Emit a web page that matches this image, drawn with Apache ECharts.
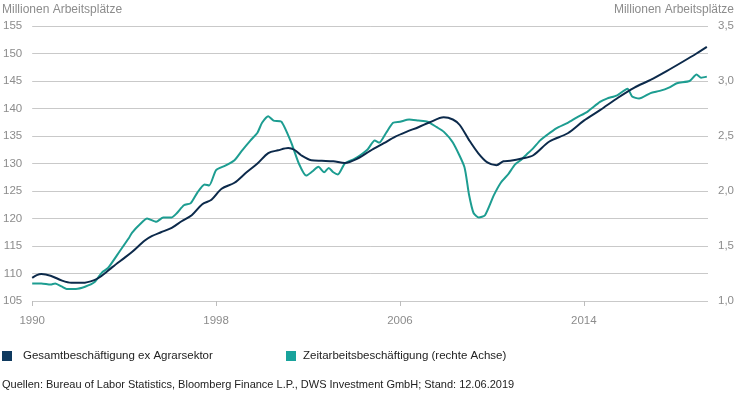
<!DOCTYPE html>
<html>
<head>
<meta charset="utf-8">
<script src="https://cdn.jsdelivr.net/npm/echarts@6/dist/echarts.min.js"></script>
<style>
html,body{margin:0;padding:0;background:#fff;}
#chart{width:750px;height:396px;}
</style>
</head>
<body>
<div id="chart"></div>
<script>
// ---- Data ----
const axisTitle = 'Millionen Arbeitsplätze';
const xTickYears = [1990, 1998, 2006, 2014];
const leftTicks = [105, 110, 115, 120, 125, 130, 135, 140, 145, 150, 155];
const rightTicks = [1.0, 1.5, 2.0, 2.5, 3.0, 3.5];

const seriesNames = ['Gesamtbeschäftigung ex Agrarsektor', 'Zeitarbeitsbeschäftigung (rechte Achse)'];

// Gesamtbeschäftigung ex Agrarsektor (Mio., linke Achse)
const navyYears = [1990.0, 1990.2, 1990.4, 1990.8, 1991.3, 1991.7, 1992.2, 1992.7, 1993.0, 1993.5, 1994.0, 1994.34, 1994.9, 1995.2, 1995.6, 1996.07, 1996.5, 1996.94, 1997.4, 1997.8, 1998.24, 1998.8, 1999.3, 1999.8, 2000.27, 2000.7, 2001.14, 2001.4, 2001.7, 2002.14, 2002.6, 2003.1, 2003.6, 2004.2, 2004.7, 2005.3, 2005.8, 2006.3, 2006.8, 2007.3, 2007.9, 2008.3, 2008.6, 2009.0, 2009.4, 2009.8, 2010.2, 2010.5, 2010.8, 2011.3, 2011.8, 2012.5, 2013.3, 2014.0, 2014.7, 2015.5, 2016.2, 2016.9, 2017.6, 2018.3, 2018.9, 2019.35];
const navyValues = [109.2, 109.7, 109.9, 109.6, 108.7, 108.3, 108.3, 108.8, 109.5, 111.2, 112.8, 113.9, 116.0, 116.8, 117.5, 118.3, 119.5, 120.6, 122.6, 123.4, 125.4, 126.5, 128.3, 130.0, 131.9, 132.4, 132.8, 132.5, 131.5, 130.6, 130.5, 130.4, 130.1, 131.0, 132.3, 133.7, 134.9, 135.8, 136.6, 137.5, 138.4, 138.0, 137.0, 134.3, 131.9, 130.2, 129.7, 130.4, 130.5, 130.9, 131.5, 134.0, 135.5, 137.8, 139.7, 142.0, 143.8, 145.2, 146.8, 148.5, 150.0, 151.2];

// Zeitarbeitsbeschäftigung (Mio., rechte Achse)
const tealYears = [1990.0, 1990.4, 1990.8, 1991.0, 1991.3, 1991.5, 1991.9, 1992.3, 1992.7, 1993.04, 1993.3, 1993.8, 1994.2, 1994.34, 1994.7, 1995.0, 1995.4, 1995.7, 1996.07, 1996.3, 1996.6, 1996.9, 1997.2, 1997.5, 1997.7, 1998.0, 1998.4, 1998.8, 1999.1, 1999.5, 1999.8, 2000.0, 2000.27, 2000.5, 2000.84, 2001.27, 2001.6, 2001.92, 2002.2, 2002.45, 2002.7, 2002.9, 2003.1, 2003.3, 2003.6, 2004.0, 2004.3, 2004.6, 2004.9, 2005.1, 2005.4, 2005.7, 2006.0, 2006.4, 2006.8, 2007.2, 2007.6, 2007.9, 2008.3, 2008.8, 2009.0, 2009.2, 2009.43, 2009.7, 2010.08, 2010.4, 2010.7, 2011.0, 2011.25, 2011.5, 2011.8, 2012.1, 2012.4, 2012.8, 2013.3, 2013.7, 2014.15, 2014.7, 2015.0, 2015.45, 2015.9, 2016.1, 2016.4, 2016.9, 2017.3, 2017.7, 2018.05, 2018.6, 2018.9, 2019.1, 2019.35];
const tealValues = [1.16, 1.16, 1.15, 1.16, 1.13, 1.11, 1.11, 1.13, 1.17, 1.26, 1.30, 1.45, 1.57, 1.62, 1.70, 1.75, 1.72, 1.76, 1.76, 1.80, 1.87, 1.89, 1.99, 2.06, 2.05, 2.19, 2.23, 2.28, 2.36, 2.46, 2.53, 2.62, 2.68, 2.64, 2.63, 2.44, 2.25, 2.14, 2.18, 2.22, 2.17, 2.21, 2.17, 2.15, 2.25, 2.29, 2.33, 2.38, 2.46, 2.44, 2.53, 2.62, 2.63, 2.65, 2.64, 2.63, 2.58, 2.54, 2.44, 2.22, 1.97, 1.80, 1.76, 1.78, 1.96, 2.08, 2.15, 2.24, 2.28, 2.33, 2.39, 2.46, 2.51, 2.57, 2.62, 2.67, 2.72, 2.81, 2.84, 2.87, 2.93, 2.86, 2.84, 2.89, 2.91, 2.94, 2.98, 3.00, 3.06, 3.03, 3.04];

const sourceText = 'Quellen: Bureau of Labor Statistics, Bloomberg Finance L.P., DWS Investment GmbH; Stand: 12.06.2019';

// ---- Chart ----
const zip = (xs, ys) => xs.map((x, i) => [x, ys[i]]);
const axisFont = 'Liberation Sans, Arial, sans-serif';
const labelColor = '#8c8c8c';

const chart = echarts.init(document.getElementById('chart'), null, {renderer: 'canvas'});
chart.setOption({
  animation: false,
  backgroundColor: '#ffffff',
  title: [
    {text: axisTitle, left: 2, top: 4, padding: 0, textStyle: {fontFamily: axisFont, fontSize: 12, fontWeight: 'normal', color: labelColor}},
    {text: axisTitle, right: 16, top: 4, padding: 0, textStyle: {fontFamily: axisFont, fontSize: 12, fontWeight: 'normal', color: labelColor}},
    {text: sourceText, left: 2, top: 379, padding: 0, textStyle: {fontFamily: axisFont, fontSize: 11, fontWeight: 'normal', color: '#222'}}
  ],
  legend: [
    {data: [seriesNames[0]], left: 2, top: 350, padding: 0, icon: 'rect', itemWidth: 10, itemHeight: 10,
     textStyle: {fontFamily: axisFont, fontSize: 11.5, color: '#222', padding: [0, 0, 0, 6]}},
    {data: [seriesNames[1]], left: 286, top: 350, padding: 0, icon: 'rect', itemWidth: 10, itemHeight: 10,
     textStyle: {fontFamily: axisFont, fontSize: 11.5, color: '#222', padding: [0, 0, 0, 2]}}
  ],
  grid: {left: 30, right: 42, top: 26, bottom: 95, containLabel: false},
  xAxis: {
    type: 'value', min: 1990, max: 2019.4,
    axisLine: {show: false},
    splitLine: {show: false},
    axisTick: {show: true, length: 5, lineStyle: {color: '#bdbdbd'}, customValues: xTickYears},
    axisLabel: {customValues: xTickYears, margin: 14, color: labelColor, fontFamily: axisFont, fontSize: 11.5,
                formatter: v => String(Math.round(v))}
  },
  yAxis: [
    {type: 'value', min: 105, max: 155, interval: 5, position: 'left',
     axisLine: {show: false}, axisTick: {show: false},
     splitLine: {show: true, lineStyle: {color: '#c9c9c9', width: 1}},
     axisLabel: {margin: 10, color: labelColor, fontFamily: axisFont, fontSize: 11.5}},
    {type: 'value', min: 1.0, max: 3.5, interval: 0.25, position: 'right',
     axisLine: {show: false}, axisTick: {show: false}, splitLine: {show: false},
     axisLabel: {margin: 10, color: labelColor, fontFamily: axisFont, fontSize: 11.5,
                 customValues: rightTicks,
                 formatter: v => v.toFixed(1).replace('.', ',')}}
  ],
  series: [
    {name: seriesNames[0], type: 'line', yAxisIndex: 0, showSymbol: false, symbol: 'none',
     data: zip(navyYears, navyValues), smooth: 0.3,
     itemStyle: {color: '#0f3a5f'}, lineStyle: {color: '#0c2a4b', width: 2}, z: 3},
    {name: seriesNames[1], type: 'line', yAxisIndex: 1, showSymbol: false, symbol: 'none',
     data: zip(tealYears, tealValues), smooth: 0.2,
     itemStyle: {color: '#19a39c'}, lineStyle: {color: '#1d9d91', width: 2}, z: 2}
  ]
});
</script>
</body>
</html>
